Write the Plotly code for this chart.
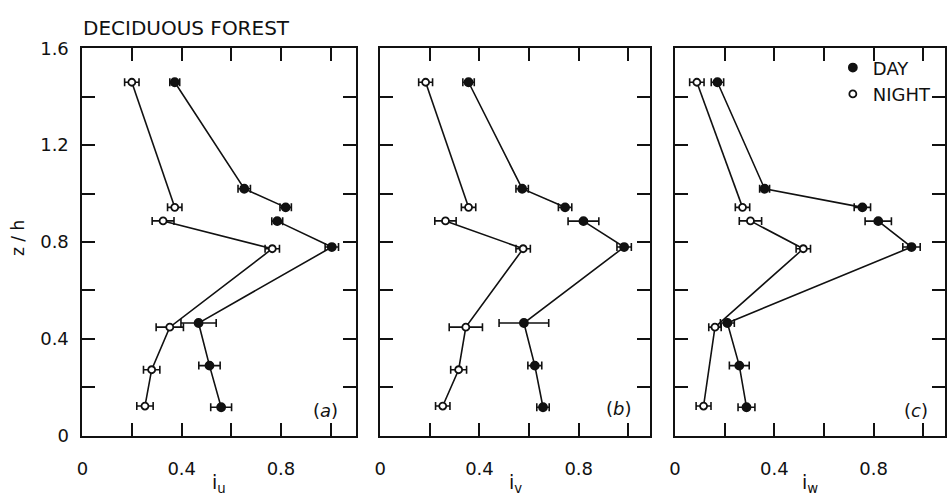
import plotly.graph_objects as go

# ---------------- data ----------------
Z_DAY = [1.46, 1.02, 0.943, 0.886, 0.779, 0.465, 0.289, 0.117]
Z_NIGHT = [1.46, 0.943, 0.887, 0.772, 0.448, 0.272, 0.122]
# measurement group of each level: points are joined only within a group
GROUP_DAY = [1, 1, 1, 2, 2, 2, 2, 2]
GROUP_NIGHT = [1, 1, 2, 2, 2, 2, 2]

IU_DAY = [0.372, 0.652, 0.819, 0.785, 1.005, 0.468, 0.512, 0.559]
IU_DAY_ERR = [0.02, 0.025, 0.023, 0.022, 0.027, 0.071, 0.043, 0.042]
IU_NIGHT = [0.199, 0.372, 0.325, 0.765, 0.352, 0.279, 0.252]
IU_NIGHT_ERR = [0.029, 0.029, 0.044, 0.029, 0.055, 0.033, 0.033]

IV_DAY = [0.356, 0.572, 0.745, 0.819, 0.983, 0.579, 0.623, 0.656]
IV_DAY_ERR = [0.023, 0.025, 0.027, 0.062, 0.029, 0.10, 0.028, 0.025]
IV_NIGHT = [0.183, 0.356, 0.263, 0.576, 0.345, 0.316, 0.252]
IV_NIGHT_ERR = [0.028, 0.029, 0.043, 0.029, 0.067, 0.032, 0.029]

IW_DAY = [0.171, 0.361, 0.755, 0.819, 0.953, 0.211, 0.259, 0.288]
IW_DAY_ERR = [0.025, 0.02, 0.033, 0.053, 0.035, 0.028, 0.04, 0.034]
IW_NIGHT = [0.088, 0.272, 0.304, 0.517, 0.161, None, 0.115]
IW_NIGHT_ERR = [0.029, 0.029, 0.045, 0.029, 0.025, None, 0.03]

PANEL_LABELS = ["a", "b", "c"]
X_SUBSCRIPTS = ["u", "v", "w"]
X_TICKS = [0, 0.4, 0.8]
X_TICK_TEXT = ["0", "0.4", "0.8"]
X_MINOR_TICKS = [0.2, 0.6, 1.0]
Y_TICKS = [0, 0.4, 0.8, 1.2, 1.6]
Y_TICK_TEXT = ["0", "0.4", "0.8", "1.2", "1.6"]
Y_MINOR_TICKS = [0.2, 0.6, 1.0, 1.4]

TITLE = "DECIDUOUS FOREST"
Y_TITLE = "z / h"

# ---------------- styling ----------------
INK = "#111111"
FONT = "DejaVu Sans"
W, H = 947, 504
X_DOMAINS = [(77 / W, 353 / W), (377 / W, 649 / W), (674 / W, 946 / W)]
X_RANGES = [(0, 1.104), (0, 1.088), (0, 1.088)]
Y_DOMAIN = (1 - 443 / H, 1 - 39 / H)

panels = [
    (IU_DAY, IU_DAY_ERR, IU_NIGHT, IU_NIGHT_ERR),
    (IV_DAY, IV_DAY_ERR, IV_NIGHT, IV_NIGHT_ERR),
    (IW_DAY, IW_DAY_ERR, IW_NIGHT, IW_NIGHT_ERR),
]

fig = go.Figure()

for i, (xd, ed, xn, en) in enumerate(panels):
    xa = "x" if i == 0 else f"x{i + 1}"
    ya = "y" if i == 0 else f"y{i + 1}"
    for name, xs, es, zs, groups, filled in (
        ("DAY", xd, ed, Z_DAY, GROUP_DAY, True),
        ("NIGHT", xn, en, Z_NIGHT, GROUP_NIGHT, False),
    ):
        # connecting lines, one per group
        for g in sorted(set(groups)):
            gx = [x for x, gg in zip(xs, groups) if gg == g and x is not None]
            gz = [z for x, z, gg in zip(xs, zs, groups) if gg == g and x is not None]
            fig.add_trace(go.Scatter(
                x=gx, y=gz, mode="lines", xaxis=xa, yaxis=ya,
                line=dict(color=INK, width=1.6), showlegend=False, hoverinfo="skip",
            ))
        px = [x for x in xs if x is not None]
        pz = [z for x, z in zip(xs, zs) if x is not None]
        pe = [e for x, e in zip(xs, es) if x is not None]
        fig.add_trace(go.Scatter(
            x=px, y=pz, mode="markers", xaxis=xa, yaxis=ya, name=name,
            showlegend=(i == 2), legendrank=1 if filled else 2,
            marker=dict(
                symbol="circle", size=8 if filled else 7,
                color=INK if filled else "white",
                line=dict(color=INK, width=1.8),
            ),
            error_x=dict(type="data", array=pe, color=INK, thickness=1.6, width=4),
        ))

axis_common = dict(
    showline=True, linewidth=2, linecolor=INK, mirror="allticks",
    ticks="inside", ticklen=13, tickwidth=1.5, tickcolor=INK,
    showgrid=False, zeroline=False,
    tickfont=dict(family=FONT, size=18, color=INK),
)

layout = dict(
    width=W, height=H,
    margin=dict(l=0, r=0, t=0, b=0),
    paper_bgcolor="white", plot_bgcolor="white",
    font=dict(family=FONT, color=INK),
    legend=dict(
        x=833 / W, y=1 - 40 / H, xanchor="left", yanchor="top",
        bgcolor="rgba(0,0,0,0)", font=dict(family=FONT, size=18, color=INK),
        itemclick=False, tracegroupgap=0,
    ),
)

for i in range(3):
    xk = "xaxis" if i == 0 else f"xaxis{i + 1}"
    yk = "yaxis" if i == 0 else f"yaxis{i + 1}"
    ya = "y" if i == 0 else f"y{i + 1}"
    xa = "x" if i == 0 else f"x{i + 1}"
    layout[xk] = dict(
        axis_common, domain=list(X_DOMAINS[i]), range=list(X_RANGES[i]),
        tickmode="array", tickvals=X_TICKS, ticktext=X_TICK_TEXT,
        minor=dict(tickmode="array", tickvals=X_MINOR_TICKS, ticks="inside",
                   ticklen=13, tickwidth=1.5, tickcolor=INK, showgrid=False),
        anchor=ya, ticklabelstandoff=16,
    )
    layout[yk] = dict(
        axis_common, domain=list(Y_DOMAIN), range=[0, 1.6],
        tickmode="array", tickvals=Y_TICKS, ticktext=Y_TICK_TEXT,
        minor=dict(tickmode="array", tickvals=Y_MINOR_TICKS, ticks="inside",
                   ticklen=13, tickwidth=1.5, tickcolor=INK, showgrid=False),
        showticklabels=(i == 0), anchor=xa, ticklabelstandoff=8,
    )

annotations = [
    dict(text=TITLE, x=76 / W, y=1 - 18 / H, xref="paper", yref="paper",
         xanchor="left", yanchor="middle", showarrow=False,
         font=dict(family=FONT, size=20, color=INK)),
    dict(text=Y_TITLE, x=12 / W, y=1 - 237 / H, xref="paper", yref="paper",
         textangle=-90, xanchor="center", yanchor="middle", showarrow=False,
         font=dict(family=FONT, size=17, color=INK)),
]
label_pos = [(322, 417), (618, 415), (917, 417)]
for i in range(3):
    lo, hi = X_DOMAINS[i]
    annotations.append(dict(
        text=f"i<sub>{X_SUBSCRIPTS[i]}</sub>", x=(lo + hi) / 2, y=1 - 493 / H,
        xref="paper", yref="paper", xanchor="center", yanchor="middle",
        showarrow=False, font=dict(family=FONT, size=19, color=INK)))
    lx, ly = label_pos[i]
    annotations.append(dict(
        text=f"(<i>{PANEL_LABELS[i]}</i>)", x=lx / W, y=1 - ly / H,
        xref="paper", yref="paper", xanchor="center", yanchor="middle",
        showarrow=False, font=dict(family=FONT, size=18, color=INK)))

layout["annotations"] = annotations
fig.update_layout(**layout)
fig.write_html("out.html")
